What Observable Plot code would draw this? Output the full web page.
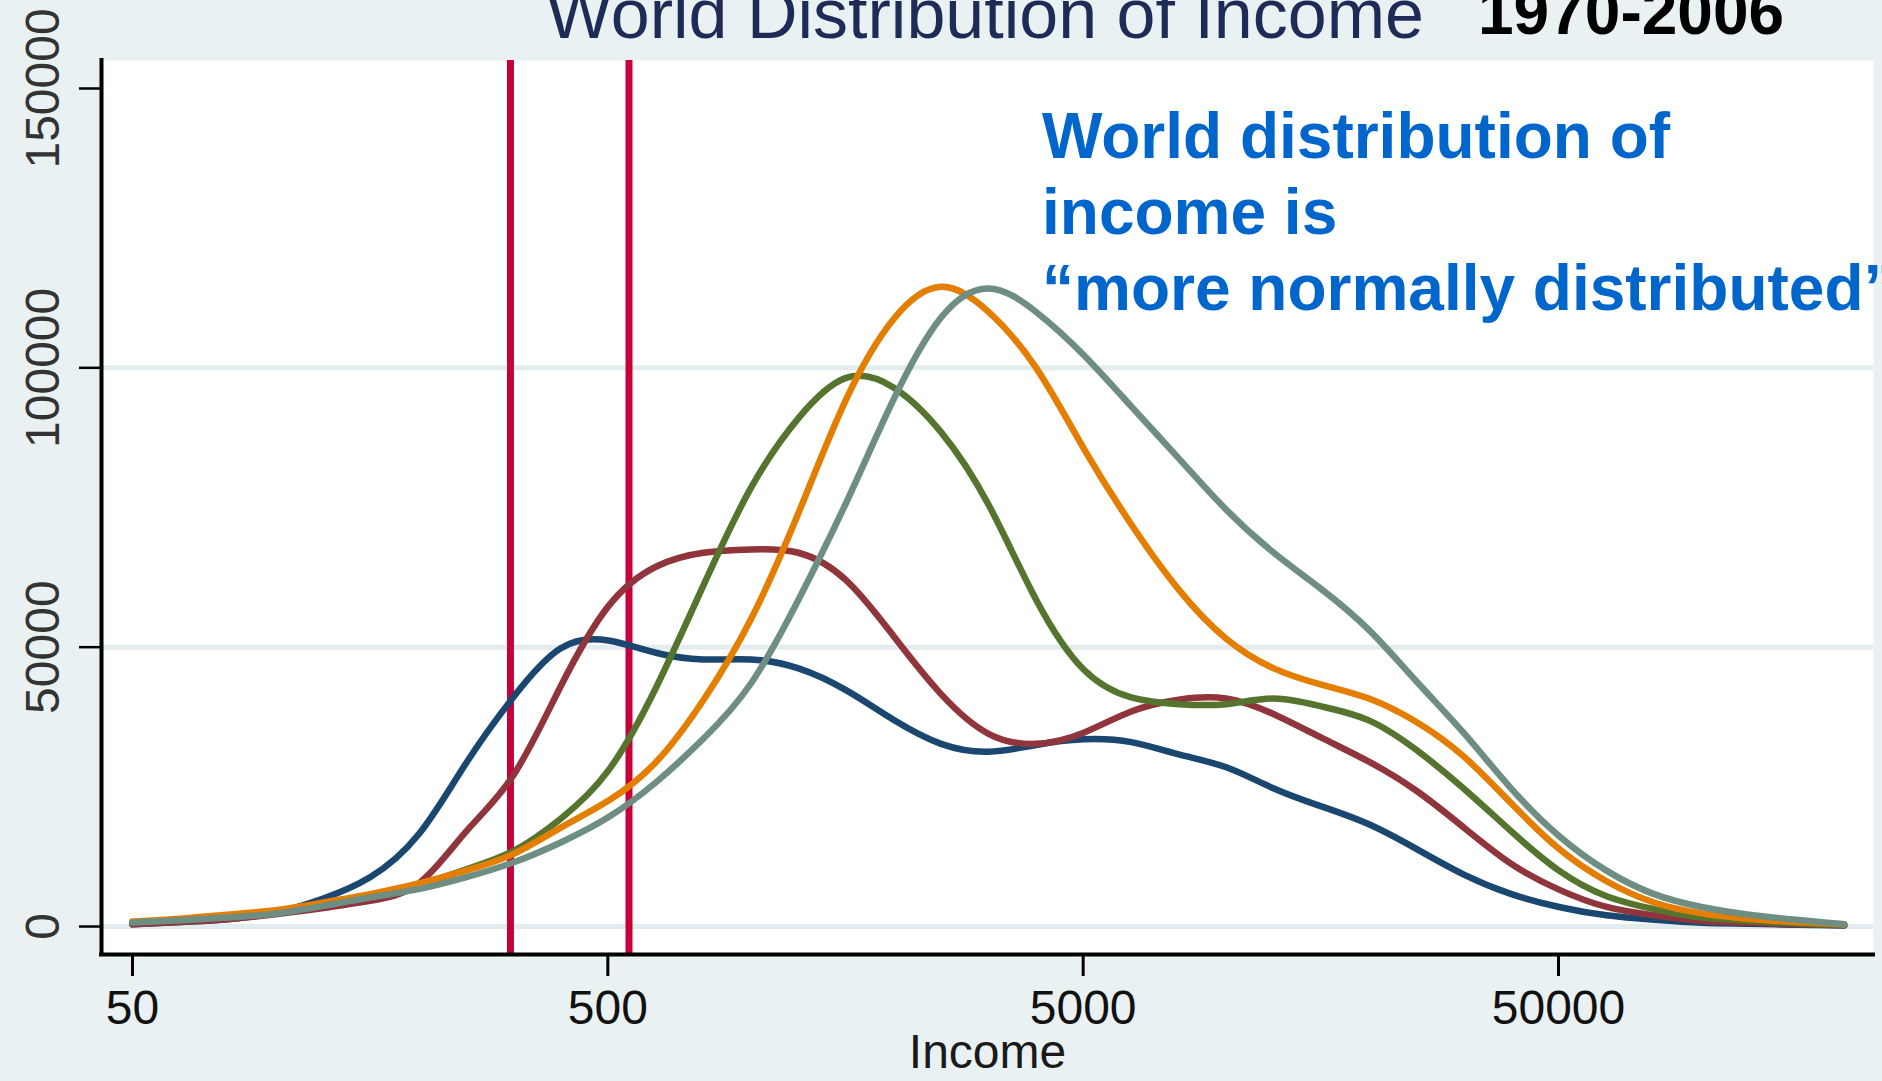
<!DOCTYPE html>
<html>
<head>
<meta charset="utf-8">
<script src="https://cdn.jsdelivr.net/npm/d3@7"></script>
<script src="https://cdn.jsdelivr.net/npm/@observablehq/plot@0.6"></script>
<style>
html, body { margin: 0; padding: 0; }
body {
  width: 1882px; height: 1081px; overflow: hidden; position: relative;
  background: #E9F1F2;
  font-family: "Liberation Sans", Arial, Helvetica, sans-serif;
}
#chart { position: absolute; left: 0; top: 0; }
.t { position: absolute; white-space: nowrap; line-height: 1; }
#title { left: 546px; top: -21px; font-size: 70px; color: #1E2B57; }
#years { left: 1478px; top: -20px; font-size: 64px; font-weight: bold; color: #000; }
#note { left: 1042px; top: 98px; font-size: 64px; font-weight: bold; color: #0066CC; line-height: 76px; }
</style>
</head>
<body>
<div id="chart"></div>
<div id="title" class="t">World Distribution of Income</div>
<div id="years" class="t">1970-2006</div>
<div id="note" class="t">World distribution of<br>income is<br>“more normally distributed”</div>
<script>
// ---- data ----
const income = [50, 63, 79, 100, 126, 158, 200, 251, 316, 398, 501, 631, 794, 1000, 1259, 1585, 1995, 2512, 3162, 3981, 5012, 6310, 7943, 10000, 12589, 15849, 19953, 25119, 31623, 39811, 50119, 63096, 79433, 100000, 125893, 158489, 199526];

const y1970 = [400, 800, 1300, 2500, 5000, 8800, 16500, 29100, 41000, 49800, 51200, 49000, 47800, 47800, 46200, 42300, 37000, 32700, 31300, 32500, 33500, 33000, 30800, 28500, 24700, 21500, 18300, 13900, 9300, 5800, 3500, 2000, 1200, 660, 500, 300, 200];
const y1980 = [400, 800, 1300, 2200, 3300, 4600, 7700, 16900, 27000, 43000, 57300, 64400, 66900, 67500, 66900, 62000, 52000, 41600, 34500, 32700, 34700, 38500, 40600, 40800, 38000, 33800, 29500, 24300, 17700, 11200, 6600, 3500, 2000, 1000, 660, 400, 250];
const y1990 = [700, 1100, 1700, 2600, 3800, 5500, 7400, 10200, 13500, 19300, 27900, 42700, 61000, 78500, 91000, 98200, 96500, 88500, 75500, 58500, 46000, 41000, 39800, 39800, 40800, 39400, 36900, 31600, 24650, 17000, 10000, 5430, 3120, 1600, 1000, 550, 300];
const y2000 = [900, 1400, 2100, 2900, 4300, 5800, 7700, 10000, 12960, 17700, 22500, 29400, 40500, 55000, 74000, 94300, 108700, 114500, 110000, 100000, 85600, 72000, 60300, 51500, 46200, 43300, 40800, 36600, 30400, 22000, 13900, 8100, 4300, 2350, 1350, 800, 400];
const y2006 = [700, 1100, 1600, 2300, 3700, 5200, 6700, 8800, 11460, 15050, 19540, 25800, 33600, 43500, 58500, 75800, 94300, 109000, 114200, 110000, 102300, 93100, 83800, 74600, 66900, 60400, 53100, 43900, 34600, 24650, 16200, 10000, 5800, 3500, 2100, 1200, 400];

const years = ["1970", "1980", "1990", "2000", "2006"];
const colors = ["#1A476F", "#90353B", "#55752F", "#E37E00", "#6E8E84"];
const povertyLines = [312, 554];

const xTicks = [50, 500, 5000, 50000];
const yTicks = [0, 50000, 100000, 150000];
const gridValues = [0, 50000, 100000];
const xDomain = [43.03, 229960];
const yDomain = [-5010, 155010];

// ---- build table ----
const seriesList = [y1970, y1980, y1990, y2000, y2006];
const rows = seriesList.flatMap((vals, s) =>
  vals.map((v, i) => ({year: years[s], income: income[i], value: v}))
);

const chart = Plot.plot({
  width: 1882,
  height: 1081,
  marginLeft: 101,
  marginRight: 9,
  marginTop: 60,
  marginBottom: 127,
  style: {
    background: "transparent",
    fontFamily: "'Liberation Sans', Arial, Helvetica, sans-serif",
    fontSize: "48px",
    color: "#1a1a1a"
  },
  x: {type: "log", domain: xDomain},
  y: {domain: yDomain},
  color: {domain: years, range: colors},
  marks: [
    Plot.frame({fill: "white"}),
    Plot.ruleY(gridValues, {stroke: "#E3ECEF", strokeWidth: 5}),
    Plot.ruleX(povertyLines, {stroke: "#C8003A", strokeWidth: 7}),
    Plot.line(rows, {
      x: "income", y: "value", z: "year", stroke: "year",
      strokeWidth: 6.5, curve: "natural"
    }),
    Plot.ruleX([xDomain[0]], {stroke: "#000", strokeWidth: 4, strokeLinecap: "square"}),
    Plot.ruleY([yDomain[0]], {stroke: "#000", strokeWidth: 4, strokeLinecap: "square"}),
    Plot.axisX({
      ticks: xTicks, tickFormat: () => null, tickSize: 22,
      strokeWidth: 3, stroke: "#000", label: null
    }),
    Plot.text(xTicks, {
      x: d => d, text: d => String(d), frameAnchor: "bottom",
      dy: 35, lineAnchor: "top", fill: "#111"
    }),
    Plot.axisY({
      ticks: yTicks, tickFormat: d => String(d), tickSize: 22, tickPadding: 21,
      tickRotate: -90, strokeWidth: 2.5, stroke: "#000", fill: "#333", label: null
    }),
    Plot.text(["Income"], {
      frameAnchor: "bottom", dy: 113, lineAnchor: "bottom", fill: "#1a1a1a"
    })
  ]
});

document.getElementById("chart").appendChild(chart);
</script>
</body>
</html>
